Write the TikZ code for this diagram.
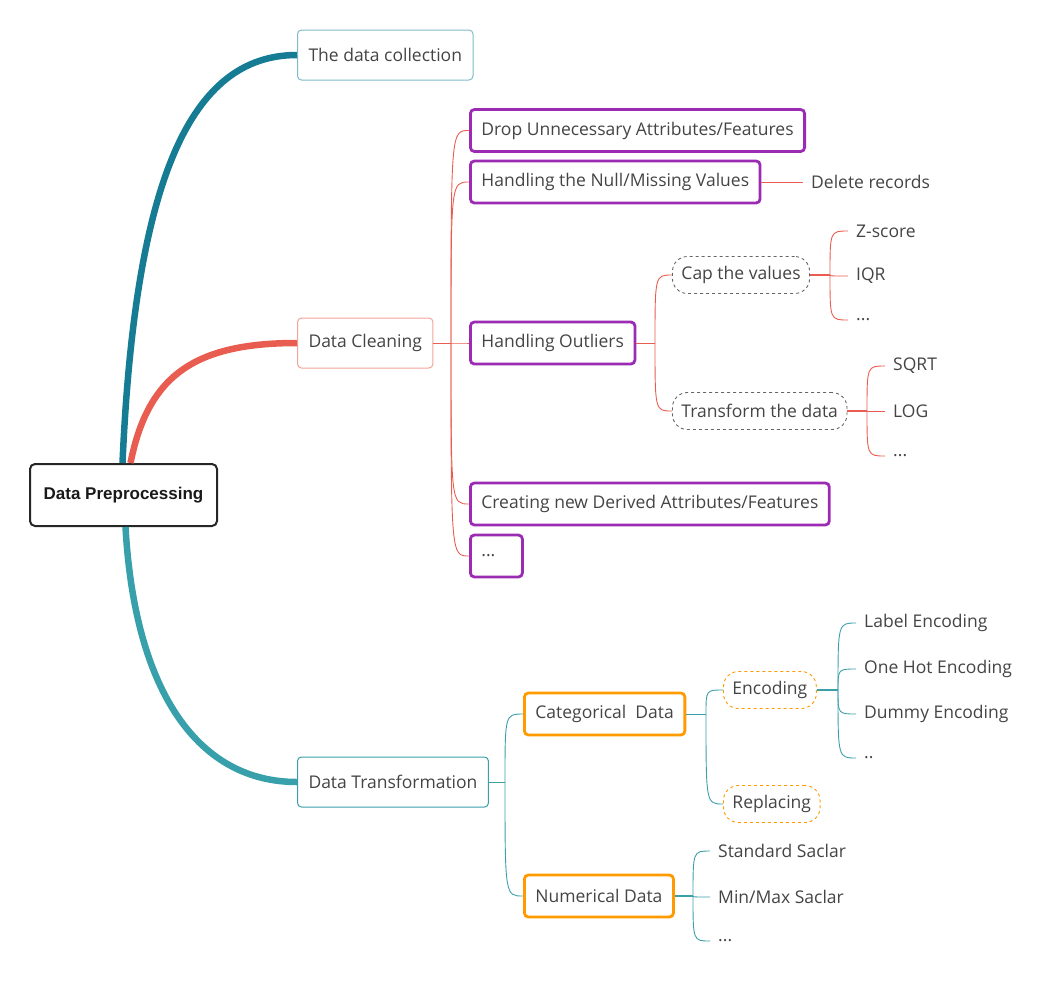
\documentclass[tikz,border=0pt]{standalone}
\usepackage{fontspec}
\setmainfont{Open Sans}
\newfontfamily\rootfont{Liberation Sans}
\usepackage{xcolor}
\definecolor{tealdark}{HTML}{167C93}
\definecolor{tealmid}{HTML}{38A0AA}
\definecolor{tealline}{HTML}{3A9FA9}
\definecolor{coral}{HTML}{E85D4F}
\definecolor{coralsoft}{HTML}{F2A39A}
\definecolor{tealsoft}{HTML}{7FBBC9}
\definecolor{purp}{HTML}{9C2BB3}
\definecolor{orng}{HTML}{FF9A00}
\definecolor{txt}{HTML}{444444}

\begin{document}
\begin{tikzpicture}[x=1pt,y=-1pt,
  every node/.style={text=txt,font=\fontsize{17.5}{19}\selectfont},
  box/.style={draw,rounded corners=4pt,anchor=west,inner xsep=11pt,minimum height=50pt,line width=1pt},
  subbox/.style={box,line width=2.8pt,minimum height=42pt},
  dashbox/.style={draw,dashed,rounded corners=15pt,anchor=west,inner xsep=9pt,minimum height=37pt,line width=0.9pt},
  leaf/.style={anchor=west,inner xsep=8pt},
  branch/.style={line width=6.5pt},
  twig/.style={line width=0.9pt}]
  \useasboundingbox (0,0) rectangle (1052,989);

  \node[draw=black!85,line width=2pt,rounded corners=5pt,minimum width=187pt,minimum height=62pt,
        text=black!90,font=\rootfont\bfseries\fontsize{17}{19}\selectfont] (root) at (123.5,495) {Data Preprocessing};

  \node[box,draw=tealsoft]   (coll)  at (297,55)  {The data collection};
  \node[box,draw=coralsoft]  (clean) at (297,343) {Data Cleaning};
  \node[box,draw=tealline]   (trans) at (297,782) {Data Transformation};

  \draw[branch,tealdark] ([xshift=-1pt]root.north) .. controls (135,180) and (190,55) .. (coll.west);
  \draw[branch,coral] ([xshift=7pt]root.north) .. controls (148,375) and (195,343) .. (clean.west);
  \draw[branch,tealmid] ([xshift=2pt]root.south) .. controls (135,695) and (200,782) .. (trans.west);

  % data cleaning
  \node[subbox,draw=purp] (drop)   at (469,130.5) {Drop Unnecessary Attributes/Features};
  \node[subbox,draw=purp] (null)   at (469,182)   {Handling the Null/Missing Values};
  \node[subbox,draw=purp] (outl)   at (469,343)   {Handling Outliers};
  \node[subbox,draw=purp] (derive) at (469,504)   {Creating new Derived Attributes/Features};
  \node[subbox,draw=purp] (more)   at (469,556)   {\makebox[30pt][l]{...}};
  \node[leaf] (delrec) at (803,182) {Delete records};

  \node[dashbox,draw=black!60] (cap)  at (672,275) {Cap the values};
  \node[dashbox,draw=black!60] (tdat) at (672,411) {Transform the data};
  \node[leaf] (zsc)  at (848,231) {Z-score};
  \node[leaf] (iqr)  at (848,276) {IQR};
  \node[leaf] (capm) at (848,320) {...};
  \node[leaf] (sqrt) at (885,366) {SQRT};
  \node[leaf] (log)  at (885,411) {LOG};
  \node[leaf] (tdm)  at (885,456) {...};

  \coordinate (jclean) at (451,343);
  \coordinate (joutl)  at (655,343);
  \coordinate (jcap)   at (830,275);
  \coordinate (jtdat)  at (867,411);

  \draw[twig,coral] (clean.east) -- (jclean);
  \foreach \c in {drop,null,outl,derive,more}
    \draw[twig,coral] (jclean) .. controls (jclean |- \c.west) and (jclean |- \c.west) .. (\c.west);
  \draw[twig,coral] (null.east) -- (delrec.west);
  \draw[twig,coral] (outl.east) -- (joutl);
  \foreach \c in {cap,tdat}
    \draw[twig,coral] (joutl) .. controls (joutl |- \c.west) and (joutl |- \c.west) .. (\c.west);
  \draw[coral,line width=1.6pt] (cap.east) -- (jcap);
  \foreach \c in {zsc,iqr,capm}
    \draw[twig,coral] (jcap) .. controls (jcap |- \c.west) and (jcap |- \c.west) .. (\c.west);
  \draw[coral,line width=1.6pt] (tdat.east) -- (jtdat);
  \foreach \c in {sqrt,log,tdm}
    \draw[twig,coral] (jtdat) .. controls (jtdat |- \c.west) and (jtdat |- \c.west) .. (\c.west);

  % data transformation
  \node[subbox,draw=orng] (cat) at (523,714) {Categorical~~Data};
  \node[subbox,draw=orng] (num) at (523,896) {Numerical Data};
  \node[dashbox,draw=orng] (enc) at (723,690) {Encoding};
  \node[dashbox,draw=orng] (repl) at (723,804) {Replacing};
  \node[leaf] (lab)  at (856,623) {Label Encoding};
  \node[leaf] (ohe)  at (856,669) {One Hot Encoding};
  \node[leaf] (dum)  at (856,714) {Dummy Encoding};
  \node[leaf] (encm) at (856,758) {..};
  \node[leaf] (std)  at (710,851) {Standard Saclar};
  \node[leaf] (mm)   at (710,897) {Min/Max Saclar};
  \node[leaf] (numm) at (710,941) {...};

  \coordinate (jtrans) at (505,782);
  \coordinate (jcat)   at (706,714);
  \coordinate (jenc)   at (838,690);
  \coordinate (jnum)   at (693,896);

  \draw[twig,tealline] (trans.east) -- (jtrans);
  \foreach \c in {cat,num}
    \draw[twig,tealline] (jtrans) .. controls (jtrans |- \c.west) and (jtrans |- \c.west) .. (\c.west);
  \draw[twig,tealline] (cat.east) -- (jcat);
  \foreach \c in {enc,repl}
    \draw[twig,tealline] (jcat) .. controls (jcat |- \c.west) and (jcat |- \c.west) .. (\c.west);
  \draw[tealline,line width=1.8pt] (enc.east) -- (jenc);
  \foreach \c in {lab,ohe,dum,encm}
    \draw[twig,tealline] (jenc) .. controls (jenc |- \c.west) and (jenc |- \c.west) .. (\c.west);
  \draw[tealline,line width=1.8pt] (num.east) -- (jnum);
  \foreach \c in {std,mm,numm}
    \draw[twig,tealline] (jnum) .. controls (jnum |- \c.west) and (jnum |- \c.west) .. (\c.west);
\end{tikzpicture}
\end{document}
